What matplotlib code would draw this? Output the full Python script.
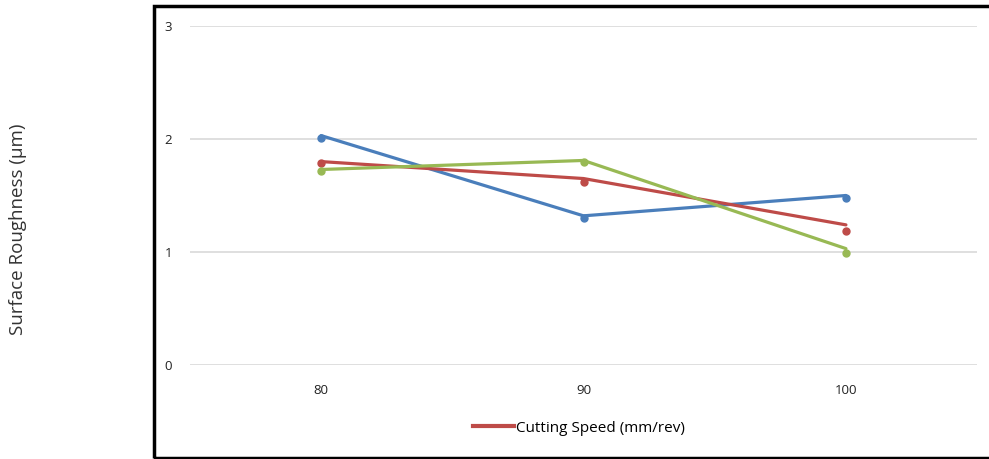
import matplotlib.pyplot as plt
from matplotlib.patches import Rectangle
from matplotlib.lines import Line2D

plt.rcParams['font.family'] = ['Open Sans', 'DejaVu Sans']

speeds = ['80', '90', '100']
# line vertices and marker points (they sit slightly apart in the source chart)
blue_line = [2.03, 1.32, 1.50]
blue_pts = [2.01, 1.30, 1.48]
red_line = [1.80, 1.65, 1.24]
red_pts = [1.79, 1.62, 1.19]
green_line = [1.73, 1.81, 1.03]
green_pts = [1.72, 1.80, 0.99]

c_blue = '#4a7ebb'
c_red = '#be4b48'
c_green = '#98b954'

fig = plt.figure(figsize=(9.89, 4.59), dpi=100)
ax = fig.add_axes([0.192, 0.2048, 0.796, 0.7386])

x = range(len(speeds))
for line, pts, c in [(blue_line, blue_pts, c_blue), (red_line, red_pts, c_red),
                     (green_line, green_pts, c_green)]:
    ax.plot(x, line, c=c, lw=2.3, solid_capstyle='round', zorder=3)
    ax.plot(x, pts, 'o', c=c, ms=5, zorder=4)

ax.set_xlim(-0.5, 2.5)
ax.set_ylim(0, 3)
ax.set_yticks([0, 1, 2, 3])
ax.set_xticks(list(x))
ax.set_xticklabels(speeds)
ax.grid(axis='y', color='#d9d9d9', lw=1.2)
ax.set_axisbelow(True)
for s in ax.spines.values():
    s.set_visible(False)
ax.tick_params(length=0, labelsize=9.5, colors='#222222')
ax.tick_params(axis='y', pad=13)
ax.tick_params(axis='x', pad=14)

fig.text(0.018, 0.50, 'Surface Roughness (µm)', rotation=90, ha='center', va='center',
         fontsize=13.5, color='#333333')

h = Line2D([], [], c=c_red, lw=3)
fig.legend([h], ['Cutting Speed (mm/rev)'], loc='center', bbox_to_anchor=(0.585, 0.067),
           frameon=False, fontsize=11, handlelength=2.7, handletextpad=0.1)

fig.patches.append(Rectangle((0.1555, 0.003), 0.86, 0.985, transform=fig.transFigure,
                             fill=False, ec='black', lw=2.5))

fig.savefig('out.png', dpi=100)
